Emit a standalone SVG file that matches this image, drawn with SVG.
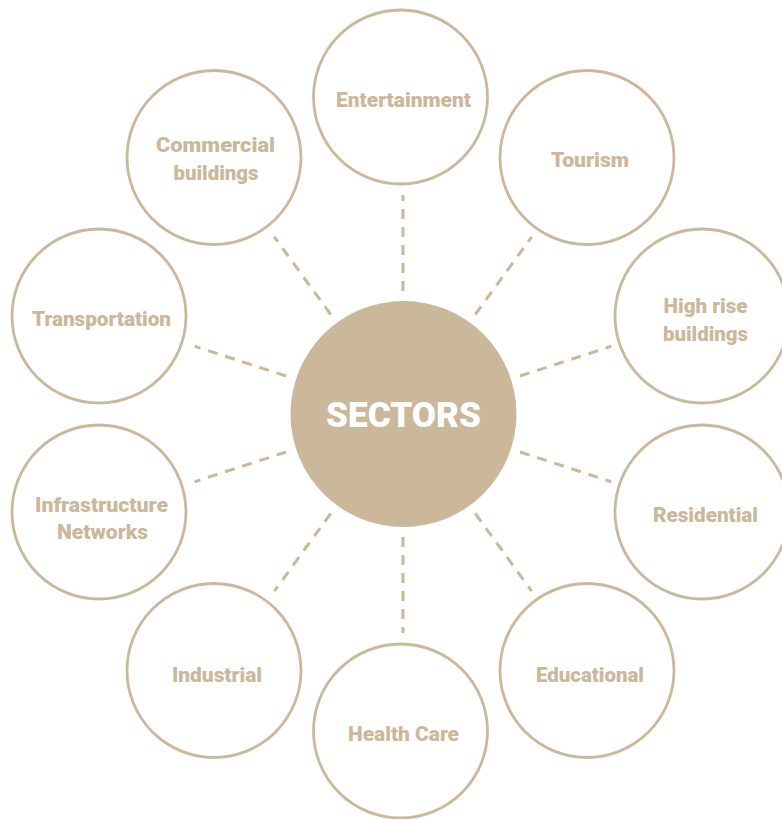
<svg xmlns="http://www.w3.org/2000/svg" width="782" height="819" viewBox="0 0 782 819">
<style>
.ring{fill:#ffffff;stroke:#cbb89a;stroke-width:2.8}
.lbl{font-family:Roboto,"DejaVu Sans",sans-serif;font-weight:900;font-size:19.5px;fill:#cbb89a;text-anchor:middle}
.hub{fill:#cbb89a}
.hubtxt{font-family:Roboto,"DejaVu Sans",sans-serif;font-weight:900;font-size:35px;fill:#ffffff;text-anchor:middle}
.dash{stroke:#cbb89a;stroke-width:3;stroke-dasharray:10 8;fill:none}
</style>
<rect width="782" height="819" fill="#ffffff"/>
<g id="connectors">
<line class="dash" x1="403" y1="291" x2="403" y2="195"/>
<line class="dash" x1="475.3" y1="314.5" x2="531.7" y2="236.8"/>
<line class="dash" x1="520" y1="376" x2="611.3" y2="346.3"/>
<line class="dash" x1="520" y1="452" x2="611.3" y2="481.7"/>
<line class="dash" x1="475.3" y1="513.5" x2="531.7" y2="591.2"/>
<line class="dash" x1="403" y1="537" x2="403" y2="633"/>
<line class="dash" x1="330.7" y1="513.5" x2="274.3" y2="591.2"/>
<line class="dash" x1="286" y1="452" x2="194.7" y2="481.7"/>
<line class="dash" x1="286" y1="376" x2="194.7" y2="346.3"/>
<line class="dash" x1="330.7" y1="314.5" x2="274.3" y2="236.8"/>
</g>
<g id="hub">
<circle class="hub" cx="403.5" cy="414" r="113"/>
<text class="hubtxt" x="403.5" y="427" textLength="155" lengthAdjust="spacingAndGlyphs">SECTORS</text>
</g>
<g id="entertainment">
<circle class="ring" cx="400.5" cy="97" r="87"/>
<text class="lbl" x="403.5" y="107" textLength="135" lengthAdjust="spacingAndGlyphs">Entertainment</text>
</g>
<g id="tourism">
<circle class="ring" cx="587" cy="157.5" r="87"/>
<text class="lbl" x="590" y="167" textLength="78" lengthAdjust="spacingAndGlyphs">Tourism</text>
</g>
<g id="high-rise">
<circle class="ring" cx="702" cy="316" r="87"/>
<text class="lbl" x="705.5" y="313" textLength="84" lengthAdjust="spacingAndGlyphs">High rise</text>
<text class="lbl" x="705.5" y="341" textLength="85" lengthAdjust="spacingAndGlyphs">buildings</text>
</g>
<g id="residential">
<circle class="ring" cx="702" cy="512" r="87"/>
<text class="lbl" x="705.5" y="522" textLength="105" lengthAdjust="spacingAndGlyphs">Residential</text>
</g>
<g id="educational">
<circle class="ring" cx="587" cy="670.5" r="87"/>
<text class="lbl" x="590" y="682" textLength="108" lengthAdjust="spacingAndGlyphs">Educational</text>
</g>
<g id="health-care">
<circle class="ring" cx="400.5" cy="731" r="87"/>
<text class="lbl" x="403.5" y="741" textLength="111" lengthAdjust="spacingAndGlyphs">Health Care</text>
</g>
<g id="industrial">
<circle class="ring" cx="214" cy="670.5" r="87"/>
<text class="lbl" x="217" y="682" textLength="90" lengthAdjust="spacingAndGlyphs">Industrial</text>
</g>
<g id="infrastructure">
<circle class="ring" cx="99" cy="512" r="87"/>
<text class="lbl" x="101.5" y="512" textLength="133" lengthAdjust="spacingAndGlyphs">Infrastructure</text>
<text class="lbl" x="102.5" y="539" textLength="91" lengthAdjust="spacingAndGlyphs">Networks</text>
</g>
<g id="transportation">
<circle class="ring" cx="99" cy="316" r="87"/>
<text class="lbl" x="101.5" y="326" textLength="139" lengthAdjust="spacingAndGlyphs">Transportation</text>
</g>
<g id="commercial">
<circle class="ring" cx="214" cy="157.5" r="87"/>
<text class="lbl" x="215.5" y="152" textLength="119" lengthAdjust="spacingAndGlyphs">Commercial</text>
<text class="lbl" x="216" y="180" textLength="85" lengthAdjust="spacingAndGlyphs">buildings</text>
</g>
</svg>
